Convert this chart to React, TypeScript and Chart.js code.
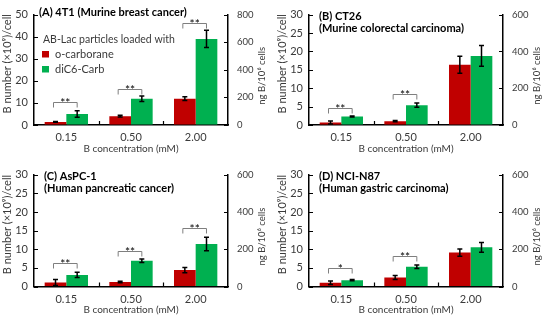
import React, { useEffect, useRef } from "react";
import { Chart, registerables } from "chart.js";

Chart.register(...registerables);

// ---------- data ----------
const categories = ["0.15", "0.50", "2.00"];
const seriesNames = ["o-carborane", "diC6-Carb"];
const legendTitle = "AB-Lac particles loaded with";
const xTitle = "B concentration (mM)";
const yTitle = "B number (\u00d710\u2079)/cell";
const y2Title = "ng B/10\u2076 cells";

const aTitle = ["(A) 4T1 (Murine breast cancer)"];
const aRed = [1.4, 4.0, 11.9];
const aRedErr = [0.2, 0.4, 0.85];
const aGreen = [5.0, 11.9, 39.0];
const aGreenErr = [1.5, 1.3, 3.9];
const aBracket = [10.6, 16.3, 46.4];
const aStars = ["**", "**", "**"];

const bTitle = ["(B) CT26", "(Murine colorectal carcinoma)"];
const bRed = [0.7, 1.05, 16.4];
const bRedErr = [0.4, 0.2, 2.3];
const bGreen = [2.3, 5.4, 18.8];
const bGreenErr = [0.15, 0.6, 2.85];
const bBracket = [4.75, 8.5, null];
const bStars = ["**", "**", ""];

const cTitle = ["(C) AsPC-1", "(Human pancreatic cancer)"];
const cRed = [1.05, 1.2, 4.4];
const cRedErr = [0.8, 0.2, 0.7];
const cGreen = [3.1, 6.9, 11.4];
const cGreenErr = [0.7, 0.45, 1.8];
const cBracket = [6.4, 9.5, 15.6];
const cStars = ["**", "**", "**"];

const dTitle = ["(D) NCI-N87", "(Human gastric carcinoma)"];
const dRed = [1.0, 2.4, 9.1];
const dRedErr = [0.45, 0.55, 0.95];
const dGreen = [1.7, 5.3, 10.5];
const dGreenErr = [0.15, 0.5, 1.3];
const dBracket = [4.9, 8.1, null];
const dStars = ["*", "**", ""];

const yMaxA = 50;
const yStepA = 10;
const y2MaxA = 800;
const yMaxOther = 30;
const yStepOther = 5;
const y2MaxOther = 600;
const y2Step = 200;

// ---------- styles ----------
const RED = "#C00000";
const GREEN = "#00B050";
const TEXT = "#3a3a3a";
const FONT = "Lato, 'DejaVu Sans', sans-serif";

type Panel = {
  title: string[];
  red: number[];
  redErr: number[];
  green: number[];
  greenErr: number[];
  bracket: (number | null)[];
  stars: string[];
  yMax: number;
  yStep: number;
  y2Max: number;
  legend: boolean;
  left: number;
  top: number;
  h: number;
  padTop: number;
  xH: number;
};

const panels: Panel[] = [
  { title: aTitle, red: aRed, redErr: aRedErr, green: aGreen, greenErr: aGreenErr, bracket: aBracket, stars: aStars, yMax: yMaxA, yStep: yStepA, y2Max: y2MaxA, legend: true, left: 0, top: 0, h: 160, padTop: 8.5, xH: 35 },
  { title: bTitle, red: bRed, redErr: bRedErr, green: bGreen, greenErr: bGreenErr, bracket: bBracket, stars: bStars, yMax: yMaxOther, yStep: yStepOther, y2Max: y2MaxOther, legend: false, left: 275, top: 0, h: 160, padTop: 9.3, xH: 35 },
  { title: cTitle, red: cRed, redErr: cRedErr, green: cGreen, greenErr: cGreenErr, bracket: cBracket, stars: cStars, yMax: yMaxOther, yStep: yStepOther, y2Max: y2MaxOther, legend: false, left: 0, top: 160, h: 161, padTop: 10, xH: 34.5 },
  { title: dTitle, red: dRed, redErr: dRedErr, green: dGreen, greenErr: dGreenErr, bracket: dBracket, stars: dStars, yMax: yMaxOther, yStep: yStepOther, y2Max: y2MaxOther, legend: false, left: 275, top: 160, h: 161, padTop: 9.3, xH: 34.5 },
];

function panelPlugin(p: Panel) {
  return {
    id: "panelDecor",
    afterDatasetsDraw(chart: any) {
      const ctx = chart.ctx;
      const y = chart.scales.y;
      const m0 = chart.getDatasetMeta(0);
      const m1 = chart.getDatasetMeta(1);
      ctx.save();
      // error bars
      const sets: [number[], number[], any][] = [
        [p.red, p.redErr, m0],
        [p.green, p.greenErr, m1],
      ];
      ctx.strokeStyle = "#000";
      ctx.lineWidth = 1.5;
      sets.forEach(([vals, errs, meta]) => {
        meta.data.forEach((el: any, i: number) => {
          const cx = el.x;
          const t = y.getPixelForValue(vals[i] + errs[i]);
          const b = y.getPixelForValue(Math.max(0, vals[i] - errs[i]));
          ctx.beginPath();
          ctx.moveTo(cx, t);
          ctx.lineTo(cx, b);
          ctx.moveTo(cx - 2.5, t);
          ctx.lineTo(cx + 2.5, t);
          ctx.moveTo(cx - 2.5, b);
          ctx.lineTo(cx + 2.5, b);
          ctx.stroke();
        });
      });
      // significance brackets
      p.bracket.forEach((bv, i) => {
        if (bv == null) return;
        const x1 = m0.data[i].x - 2;
        const x2 = m1.data[i].x;
        const by = Math.round(y.getPixelForValue(bv)) + 0.5;
        ctx.strokeStyle = "#7f7f7f";
        ctx.lineWidth = 1;
        ctx.beginPath();
        ctx.moveTo(x1, by + 5);
        ctx.lineTo(x1, by);
        ctx.lineTo(x2, by);
        ctx.lineTo(x2, by + 5);
        ctx.stroke();
        ctx.fillStyle = "#000";
        ctx.font = `12px ${FONT}`;
        ctx.textAlign = "center";
        ctx.textBaseline = "alphabetic";
        ctx.fillText(p.stars[i], (x1 + x2) / 2, by + 4);
      });
      ctx.restore();
    },
    afterDraw(chart: any) {
      const ctx = chart.ctx;
      const ca = chart.chartArea;
      const y = chart.scales.y;
      const y2 = chart.scales.y2;
      ctx.save();
      // inward tick marks
      ctx.strokeStyle = "#000";
      ctx.lineWidth = 1.2;
      ctx.beginPath();
      y.ticks.forEach((_: any, i: number) => {
        const py = Math.round(y.getPixelForTick(i)) + 0.5;
        ctx.moveTo(ca.left, py);
        ctx.lineTo(ca.left + 4, py);
      });
      y2.ticks.forEach((_: any, i: number) => {
        const py = Math.round(y2.getPixelForTick(i)) + 0.5;
        ctx.moveTo(ca.right, py);
        ctx.lineTo(ca.right - 4, py);
      });
      const w = (ca.right - ca.left) / categories.length;
      for (let k = 1; k < categories.length; k++) {
        const px = Math.round(ca.left + k * w) + 0.5;
        ctx.moveTo(px, ca.bottom);
        ctx.lineTo(px, ca.bottom - 4);
      }
      ctx.stroke();

      // panel title
      ctx.fillStyle = "#000";
      ctx.font = `bold 11px ${FONT}`;
      ctx.textAlign = "left";
      ctx.textBaseline = "middle";
      if (p.title.length === 1) {
        ctx.fillText(p.title[0], ca.left + 5, ca.top - 2);
      } else {
        ctx.fillText(p.title[0], ca.left + 10, ca.top + 1.5);
        ctx.fillText(p.title[1], ca.left + 10, ca.top + 14);
      }

      // x title
      ctx.fillStyle = TEXT;
      ctx.font = `10px ${FONT}`;
      ctx.textAlign = "center";
      ctx.fillText(xTitle, (ca.left + ca.right) / 2, ca.bottom + 23.5);

      // y titles
      const midY = (ca.top + ca.bottom) / 2;
      ctx.font = `11px ${FONT}`;
      ctx.save();
      ctx.translate(7, midY - 6);
      ctx.rotate(-Math.PI / 2);
      ctx.fillText(yTitle, 0, 0);
      ctx.restore();
      ctx.font = `9.5px ${FONT}`;
      ctx.save();
      ctx.translate(chart.width - 13, midY + 6);
      ctx.rotate(-Math.PI / 2);
      ctx.fillText(y2Title, 0, 0);
      ctx.restore();

      // legend
      if (p.legend) {
        ctx.textAlign = "left";
        ctx.fillStyle = TEXT;
        ctx.font = `10.5px ${FONT}`;
        ctx.fillText(legendTitle, ca.left + 9, 40);
        ctx.fillStyle = RED;
        ctx.fillRect(ca.left + 8, 51, 7, 6.5);
        ctx.fillStyle = GREEN;
        ctx.fillRect(ca.left + 8, 66, 7, 6.5);
        ctx.fillStyle = TEXT;
        ctx.font = `11px ${FONT}`;
        ctx.fillText(seriesNames[0], ca.left + 21, 54.5);
        ctx.fillText(seriesNames[1], ca.left + 21, 69.5);
      }
      ctx.restore();
    },
  };
}

function PanelChart({ p }: { p: Panel }) {
  const ref = useRef<HTMLCanvasElement>(null);
  useEffect(() => {
    if (!ref.current) return;
    const tickFont = { family: FONT, size: 11 };
    const tickFont2 = { family: FONT, size: 9.5 };
    const chart = new Chart(ref.current, {
      type: "bar",
      data: {
        labels: categories,
        datasets: [
          { label: seriesNames[0], data: p.red, backgroundColor: RED, borderWidth: 0, categoryPercentage: 0.67, barPercentage: 1, yAxisID: "y" },
          { label: seriesNames[1], data: p.green, backgroundColor: GREEN, borderWidth: 0, categoryPercentage: 0.67, barPercentage: 1, yAxisID: "y" },
        ],
      },
      options: {
        responsive: false,
        animation: false,
        devicePixelRatio: 1,
        layout: { padding: { top: p.padTop, left: 0, right: 0, bottom: 0 } },
        plugins: { legend: { display: false }, tooltip: { enabled: false }, title: { display: false } },
        scales: {
          x: {
            grid: { display: true, drawOnChartArea: false, drawTicks: false },
            border: { display: true, color: "#000", width: 1.5 },
            ticks: { color: TEXT, font: tickFont, padding: 6 },
            afterFit: (s: any) => { s.height = p.xH; },
          },
          y: {
            position: "left",
            min: 0,
            max: p.yMax,
            grid: { display: true, drawOnChartArea: false, drawTicks: false },
            border: { display: true, color: "#000", width: 1.5 },
            ticks: { stepSize: p.yStep, color: TEXT, font: tickFont, padding: 6 },
            afterFit: (s: any) => { s.width = 34; },
          },
          y2: {
            position: "right",
            min: 0,
            max: p.y2Max,
            grid: { display: true, drawOnChartArea: false, drawTicks: false },
            border: { display: true, color: "#000", width: 1.5 },
            ticks: { stepSize: y2Step, color: TEXT, font: tickFont2, padding: 9 },
            afterFit: (s: any) => { s.width = 47; },
          },
        },
      } as any,
      plugins: [panelPlugin(p)],
    });
    return () => chart.destroy();
  }, [p]);
  return (
    <canvas
      ref={ref}
      width={275}
      height={p.h}
      style={{ position: "absolute", left: p.left, top: p.top, width: 275, height: p.h }}
    />
  );
}

export default function App() {
  return (
    <div style={{ position: "absolute", left: 0, top: 0, width: 550, height: 321, background: "#fff" }}>
      {panels.map((p, i) => (
        <PanelChart key={i} p={p} />
      ))}
    </div>
  );
}
